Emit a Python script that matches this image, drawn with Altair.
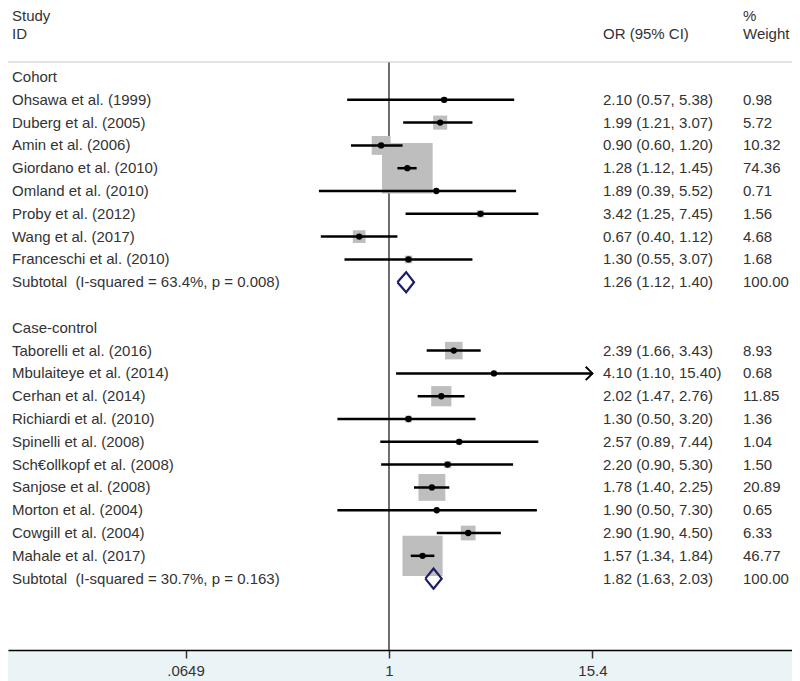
import altair as alt
import pandas as pd

FONT = "Liberation Sans"
TXT = "#333333"

# ---------------- data ----------------
cohort_names = ["Ohsawa et al. (1999)", "Duberg et al. (2005)", "Amin et al. (2006)",
                "Giordano et al. (2010)", "Omland et al. (2010)", "Proby et al. (2012)",
                "Wang et al. (2017)", "Franceschi et al. (2010)"]
cohort_or = [2.10, 1.99, 0.90, 1.28, 1.89, 3.42, 0.67, 1.30]
cohort_lo = [0.57, 1.21, 0.60, 1.12, 0.39, 1.25, 0.40, 0.55]
cohort_hi = [5.38, 3.07, 1.20, 1.45, 5.52, 7.45, 1.12, 3.07]
cohort_w = [0.98, 5.72, 10.32, 74.36, 0.71, 1.56, 4.68, 1.68]

case_names = ["Taborelli et al. (2016)", "Mbulaiteye et al. (2014)", "Cerhan et al. (2014)",
              "Richiardi et al. (2010)", "Spinelli et al. (2008)", "Sch€ollkopf et al. (2008)",
              "Sanjose et al. (2008)", "Morton et al. (2004)", "Cowgill et al. (2004)",
              "Mahale et al. (2017)"]
case_or = [2.39, 4.10, 2.02, 1.30, 2.57, 2.20, 1.78, 1.90, 2.90, 1.57]
case_lo = [1.66, 1.10, 1.47, 0.50, 0.89, 0.90, 1.40, 0.50, 1.90, 1.34]
case_hi = [3.43, 15.40, 2.76, 3.20, 7.44, 5.30, 2.25, 7.30, 4.50, 1.84]
case_w = [8.93, 0.68, 11.85, 1.36, 1.04, 1.50, 20.89, 0.65, 6.33, 46.77]

group_names = ["Cohort", "Case-control"]
sub_labels = ["Subtotal\u00a0 (I-squared = 63.4%, p = 0.008)",
              "Subtotal\u00a0 (I-squared = 30.7%, p = 0.163)"]
sub_or = [1.26, 1.82]
sub_lo = [1.12, 1.63]
sub_hi = [1.40, 2.03]
sub_w = [100.00, 100.00]

tick_values = [0.0649, 1, 15.4]
tick_labels = [".0649", "1", "15.4"]

# ---------------- tables ----------------
study_rows, group_rows, sub_rows = [], [], []
row = 0
for g, (names, ors, los, his, ws) in enumerate([
        (cohort_names, cohort_or, cohort_lo, cohort_hi, cohort_w),
        (case_names, case_or, case_lo, case_hi, case_w)]):
    group_rows.append({"label": group_names[g], "row": row})
    row += 1
    for n, o, l, h, w in zip(names, ors, los, his, ws):
        study_rows.append({"label": n, "or": o, "lo": l, "hi": h, "w": w, "row": row,
                           "ci": f"{o:.2f} ({l:.2f}, {h:.2f})", "wt": f"{w:.2f}"})
        row += 1
    sub_rows.append({"label": sub_labels[g], "or": sub_or[g], "lo": sub_lo[g],
                     "hi": sub_hi[g], "w": sub_w[g], "row": row,
                     "ci": f"{sub_or[g]:.2f} ({sub_lo[g]:.2f}, {sub_hi[g]:.2f})",
                     "wt": f"{sub_w[g]:.2f}"})
    row += 2

studies = pd.DataFrame(study_rows)
groups = pd.DataFrame(group_rows)
subs = pd.DataFrame(sub_rows)

dia = []
for i, s in subs.iterrows():
    pts = [(s["lo"], s["row"]), (s["or"], s["row"] - 0.44), (s["hi"], s["row"]),
           (s["or"], s["row"] + 0.44), (s["lo"], s["row"])]
    for k, (xx, yy) in enumerate(pts):
        dia.append({"x": xx, "y": yy, "k": k, "g": i})
diamonds = pd.DataFrame(dia)

# ---------------- scales ----------------
W, H = 784, 642
xscale = alt.Scale(type="log", domain=[0.005971, 225.2], nice=False)
yscale = alt.Scale(domain=[-3.026, 25.13], reverse=True, nice=False, zero=False)

label_expr = ""
for v, t in zip(tick_values[:-1], tick_labels[:-1]):
    label_expr += f"abs(datum.value - {v}) < 1e-6 ? '{t}' : "
label_expr += f"'{tick_labels[-1]}'"

xaxis = alt.Axis(values=tick_values, labelExpr=label_expr, title=None, grid=False,
                 domainColor="black", domainWidth=1.5, tickColor="#333333",
                 tickWidth=1.5, tickSize=8, labelFont=FONT, labelFontSize=15,
                 labelColor=TXT, labelPadding=5, labelFlush=False, labelOverlap=False)

Y = alt.Y("row:Q", scale=yscale, axis=None)

# ---------------- layers ----------------
null_line = alt.Chart(pd.DataFrame({"v": [1]})).mark_rule(
    color="#222222", strokeWidth=1.3).encode(
    x=alt.X("v:Q", scale=xscale, axis=xaxis), y=alt.value(54), y2=alt.value(H))

header_line = alt.Chart(pd.DataFrame({"a": [0]})).mark_rule(
    color="#c8c8c8", strokeWidth=1.2).encode(
    x=alt.value(0), x2=alt.value(W), y=alt.value(54))

boxes = alt.Chart(studies).mark_square(color="#bebebe", opacity=1).encode(
    x=alt.X("or:Q", scale=xscale), y=Y,
    size=alt.Size("w:Q", scale=alt.Scale(type="linear", domain=[0, 100], range=[0, 3450]),
                  legend=None))

ci = alt.Chart(studies).mark_rule(color="black", strokeWidth=2.5).encode(
    x=alt.X("lo:Q", scale=xscale), x2="hi:Q", y=Y)

arrow = alt.Chart(studies).transform_filter(
    f"datum.hi >= {tick_values[-1]}").mark_point(
    shape="M-1,-1L0,0L-1,1", filled=False, color="black", strokeWidth=2,
    size=180, opacity=1).encode(
    x=alt.X("hi:Q", scale=xscale), y=Y)

dots = alt.Chart(studies).mark_circle(color="black", size=40, opacity=1).encode(
    x=alt.X("or:Q", scale=xscale), y=Y)

dia_line = alt.Chart(diamonds).mark_line(color="#1c1c6b", strokeWidth=2.2).encode(
    x=alt.X("x:Q", scale=xscale),
    y=alt.Y("y:Q", scale=yscale, axis=None),
    order="k:Q", detail="g:N")

def txt(df, field, xpx):
    return alt.Chart(df).mark_text(align="left", baseline="middle", font=FONT,
                                   fontSize=15, color=TXT).encode(
        x=alt.value(xpx), y=Y, text=f"{field}:N")

def head(t, xpx, ypx):
    return alt.Chart(pd.DataFrame({"t": [t]})).mark_text(
        align="left", baseline="middle", font=FONT, fontSize=15, color=TXT).encode(
        x=alt.value(xpx), y=alt.value(ypx), text="t:N")

layers = [
    null_line, header_line, boxes, ci, arrow, dots, dia_line,
    txt(groups, "label", 4), txt(studies, "label", 4), txt(subs, "label", 4),
    txt(studies, "ci", 595), txt(subs, "ci", 595),
    txt(studies, "wt", 735), txt(subs, "wt", 735),
    head("Study", 4, 8), head("ID", 4, 26), head("OR (95% CI)", 595, 26),
    head("%", 735, 8), head("Weight", 735, 26),
]

chart = alt.layer(*layers).properties(
    width=W, height=H,
    autosize=alt.AutoSizeParams(type="none"),
    padding={"left": 0, "right": 0, "top": 0, "bottom": 31},
    background="#eaf3f6",
).configure_view(fill="white", strokeWidth=0)

chart.save("out.html", embed_options={"renderer": "svg", "actions": False})
